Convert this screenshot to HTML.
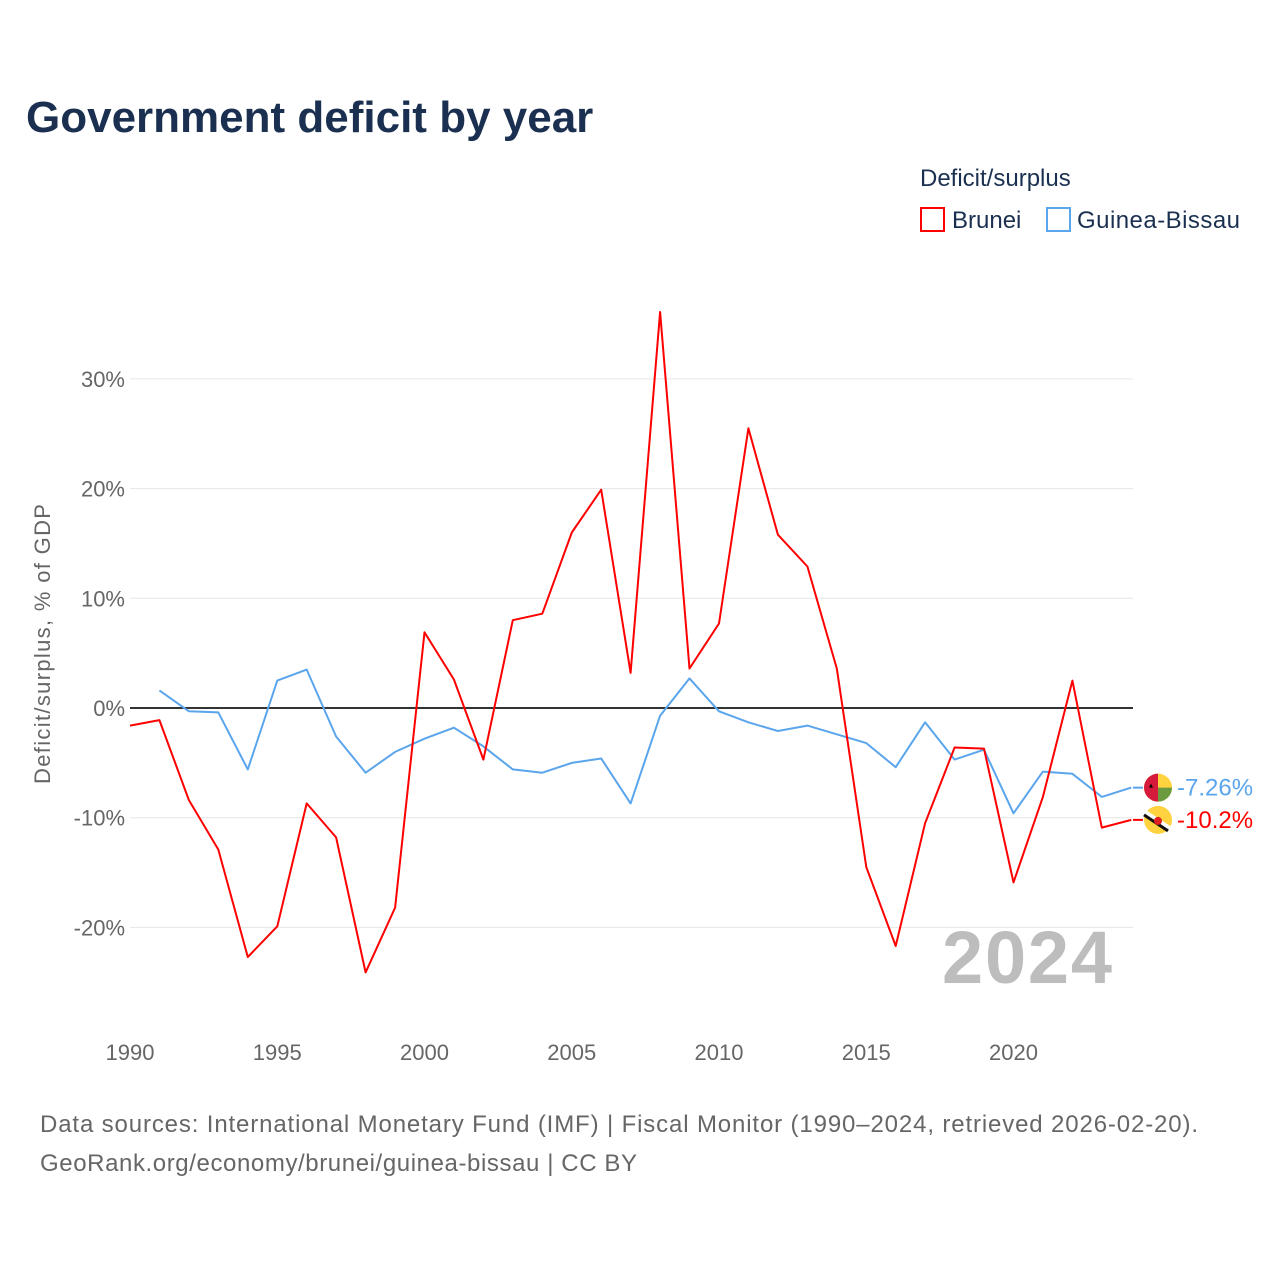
<!DOCTYPE html>
<html><head><meta charset="utf-8"><style>
body{margin:0;background:#fff;font-family:"Liberation Sans",sans-serif;}
svg text{font-family:"Liberation Sans",sans-serif;}
</style></head><body>
<svg id="chart" width="1280" height="1280" xmlns="http://www.w3.org/2000/svg">
<text x="26" y="132" font-size="44" font-weight="bold" fill="#1b3050">Government deficit by year</text>
<text x="920" y="186" font-size="24" fill="#1b3050">Deficit/surplus</text>
<g><rect x="921" y="208" width="23" height="23" fill="none" stroke="#ff0000" stroke-width="2"/><text x="952" y="228" font-size="24" fill="#1b3050">Brunei</text></g>
<g><rect x="1047" y="208" width="23" height="23" fill="none" stroke="#5aa5ec" stroke-width="2"/><text x="1077" y="228" font-size="24" fill="#1b3050" textLength="163">Guinea-Bissau</text></g>
<text transform="translate(50,644) rotate(-90)" text-anchor="middle" font-size="22" fill="#666" textLength="280">Deficit/surplus, % of GDP</text>
<g id="grid"></g><g id="yt"></g><g id="xt"></g>
<text x="1112" y="983" text-anchor="end" font-size="74" font-weight="bold" fill="#bdbdbd" textLength="170">2024</text>
<g id="lines"></g>
<text x="40" y="1132" font-size="24" fill="#666" textLength="1158">Data sources: International Monetary Fund (IMF) | Fiscal Monitor (1990–2024, retrieved 2026-02-20).</text>
<text x="40" y="1171" font-size="24" fill="#666" textLength="597">GeoRank.org/economy/brunei/guinea-bissau | CC BY</text>
</svg>
<script>
const years=[];for(let y=1990;y<=2024;y++)years.push(y);
const brunei=[-1.6,-1.1,-8.4,-12.9,-22.7,-19.9,-8.7,-11.8,-24.1,-18.2,6.9,2.6,-4.7,8.0,8.6,16.0,19.9,3.2,36.1,3.6,7.7,25.5,15.8,12.9,3.6,-14.5,-21.7,-10.5,-3.6,-3.7,-15.9,-8.1,2.5,-10.9,-10.2];
const guinea=[null,1.6,-0.3,-0.4,-5.6,2.5,3.5,-2.6,-5.9,-4.0,-2.8,-1.8,-3.5,-5.6,-5.9,-5.0,-4.6,-8.7,-0.7,2.7,-0.3,-1.3,-2.1,-1.6,-2.4,-3.2,-5.4,-1.3,-4.7,-3.8,-9.6,-5.8,-6.0,-8.1,-7.26];
const yTicks=[30,20,10,0,-10,-20];
const xTicks=[1990,1995,2000,2005,2010,2015,2020];
const NS="http://www.w3.org/2000/svg";
const X=y=>130+(y-1990)*29.45, Y=v=>708-v*10.97;
function mk(p,t,a){const e=document.createElementNS(NS,t);for(const k in a)e.setAttribute(k,a[k]);p.appendChild(e);return e;}
const g=document.getElementById('grid'),yt=document.getElementById('yt'),xt=document.getElementById('xt'),ln=document.getElementById('lines');
yTicks.forEach(v=>{
 const l=mk(g,'line',{x1:130,x2:1133,y1:Y(v),y2:Y(v),stroke:v===0?'#333':'#e6e6e6','stroke-width':v===0?2:1});
 
 
 const t=mk(yt,'text',{x:125,y:Y(v)+8,'text-anchor':'end','font-size':22,fill:'#666'});t.textContent=v+'%';
 
 
});
xTicks.forEach(v=>{
 const t=mk(xt,'text',{x:X(v),y:1060,'text-anchor':'middle','font-size':22,fill:'#666'});t.textContent=v;
 
 
});
function line(data,color,name){
 const pts=[];data.forEach((v,i)=>{if(v!==null)pts.push(X(years[i]).toFixed(1)+','+Y(v).toFixed(1));});
 const p=mk(ln,'polyline',{points:pts.join(' '),fill:'none',stroke:color,'stroke-width':2,'stroke-linejoin':'round'});
 
 
}
line(guinea,'#5aa5ec','line-guinea-bissau');
line(brunei,'#ff0000','line-brunei');
function endLabel(v,color,name,flag){
 const y=Y(v);
 const c=mk(ln,'g',{});
 
 
 mk(c,'line',{x1:1133,x2:1143,y1:y,y2:y,stroke:color,'stroke-width':2});
 const cx=1158;
 if(flag==='gw'){
  mk(c,'circle',{cx:cx,cy:y,r:14,fill:'#ffd23f'});
  mk(c,'path',{d:`M${cx} ${y} h14 a14 14 0 0 1 -14 14 z`,fill:'#6b9a3f'});
  mk(c,'path',{d:`M${cx} ${y-14} v28 a14 14 0 0 1 0 -28 z`,fill:'#d61a3c'});
  mk(c,'polygon',{points:`${cx-7},${y-4} ${cx-5},${y} ${cx-9},${y} `,fill:'#000'});
 }else{
  mk(c,'circle',{cx:cx,cy:y,r:14,fill:'#ffd23f'});
  mk(c,'line',{x1:cx-14,y1:y-8,x2:cx+12,y2:y+9,stroke:'#fff','stroke-width':5});
  mk(c,'line',{x1:cx-14,y1:y-5,x2:cx+10,y2:y+11,stroke:'#111','stroke-width':3});
  mk(c,'circle',{cx:cx,cy:y+1,r:4,fill:'#e02020'});
 }
 const t=mk(c,'text',{x:1177,y:y+8,'font-size':24,fill:color});t.textContent=v+'%';
}
endLabel(guinea[guinea.length-1],'#5aa5ec','end-label-guinea-bissau','gw');
endLabel(brunei[brunei.length-1],'#ff0000','end-label-brunei','bn');
</script>
</body></html>
